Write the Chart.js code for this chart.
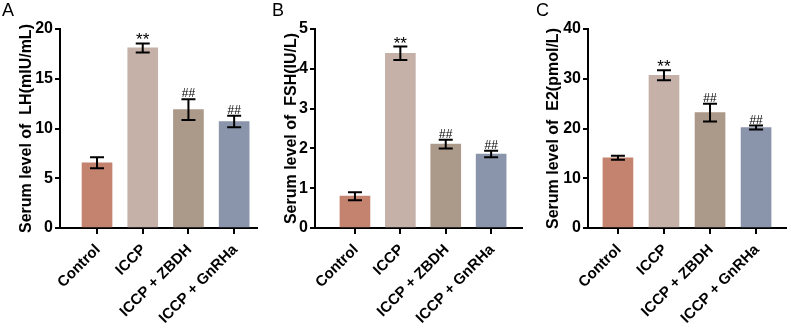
<!DOCTYPE html>
<html>
<head>
<meta charset="utf-8">
<script src="https://cdn.jsdelivr.net/npm/chart.js@4"></script>
<style>
  body { margin: 0; background: #fff; width: 789px; height: 323px; overflow: hidden; position: relative; font-family: "Liberation Sans", Arial, sans-serif; }
  .panel { position: absolute; top: 0; height: 323px; }
  .letter { position: absolute; top: 0; font-size: 18px; color: #000; }
</style>
</head>
<body>
<div class="panel" style="left:0;width:263px"><canvas id="chartA"></canvas></div>
<div class="panel" style="left:255px;width:270px"><canvas id="chartB"></canvas></div>
<div class="panel" style="left:528px;width:261px"><canvas id="chartC"></canvas></div>
<div class="letter" style="left:2px">A</div>
<div class="letter" style="left:272px">B</div>
<div class="letter" style="left:536px">C</div>
<script>
// groups on the x axis
var groups = ["Control", "ICCP", "ICCP + ZBDH", "ICCP + GnRHa"];
var barColors = ["#c4836f", "#c5b1a7", "#ab9a89", "#8a95ab"];
var marks = ["", "**", "##", "##"];

// LH (mIU/mL)
var lhMean = [6.55, 18.1, 11.9, 10.7];
var lhErr = [0.55, 0.45, 1.05, 0.57];
// FSH (IU/L)
var fshMean = [0.8, 4.39, 2.11, 1.86];
var fshErr = [0.1, 0.17, 0.11, 0.08];
// E2 (pmol/L)
var e2Mean = [14.1, 30.7, 23.2, 20.2];
var e2Err = [0.4, 1.0, 1.8, 0.4];

var errorBars = {
  id: "errorBars",
  afterDatasetsDraw: function(chart) {
    var ctx = chart.ctx;
    var meta = chart.getDatasetMeta(0);
    var errs = chart.options.plugins.errorBars.errs;
    var ys = chart.scales.y;
    ctx.save();
    ctx.strokeStyle = "#000";
    ctx.lineWidth = 2;
    meta.data.forEach(function(bar, i) {
      var v = chart.data.datasets[0].data[i].y;
      var top = ys.getPixelForValue(v + errs[i]);
      var bot = ys.getPixelForValue(v - errs[i]);
      var x = bar.x;
      ctx.beginPath();
      ctx.moveTo(x, top); ctx.lineTo(x, bot);
      ctx.moveTo(x - 7, top); ctx.lineTo(x + 7, top);
      ctx.moveTo(x - 7, bot); ctx.lineTo(x + 7, bot);
      ctx.stroke();
      ctx.fillStyle = "#000";
      ctx.textAlign = "center";
      ctx.textBaseline = "alphabetic";
      if (marks[i] === "**") {
        ctx.font = "17px 'Liberation Sans', Arial";
        ctx.fillText(marks[i], x, top + 2);
      } else if (marks[i]) {
        ctx.font = "12px 'Liberation Sans', Arial";
        ctx.fillText(marks[i], x, top - 2);
      }
    });
    ctx.restore();
  }
};

function makeChart(id, means, errs, yMax, step, title, xMin, xMax, padLeft, yWidth, padRight) {
  var pts = means.map(function(v, i) { return { x: i, y: v }; });
  return new Chart(document.getElementById(id), {
    type: "bar",
    data: {
      datasets: [{
        data: pts,
        backgroundColor: barColors,
        borderWidth: 0,
        barThickness: 30
      }]
    },
    options: {
      responsive: true,
      maintainAspectRatio: false,
      animation: false,
      layout: { padding: { left: padLeft, right: padRight, top: 29, bottom: 0 } },
      plugins: {
        legend: { display: false },
        tooltip: { enabled: false },
        errorBars: { errs: errs }
      },
      scales: {
        x: {
          type: "linear",
          min: xMin,
          max: xMax,
          offset: false,
          afterBuildTicks: function(scale) {
            scale.ticks = [0, 1, 2, 3].map(function(v) { return { value: v }; });
          },
          afterFit: function(scale) { scale.height = 95; },
          grid: { drawOnChartArea: false, offset: false, color: "#000", lineWidth: 2, tickLength: 6 },
          border: { color: "#000", width: 2 },
          ticks: {
            color: "#000",
            font: { size: 15, weight: "bold", family: "'Liberation Sans', Arial" },
            minRotation: 45,
            maxRotation: 45,
            padding: 7,
            labelOffset: 1,
            autoSkip: false,
            callback: function(v) { return groups[v]; }
          }
        },
        y: {
          min: 0,
          max: yMax,
          afterFit: function(scale) { scale.width = yWidth; },
          grid: { drawOnChartArea: false, color: "#000", lineWidth: 2, tickLength: 5 },
          border: { color: "#000", width: 2 },
          ticks: {
            stepSize: step,
            color: "#000",
            padding: 2,
            font: { size: 16, weight: "bold", family: "'Liberation Sans', Arial" }
          },
          title: {
            display: true,
            text: title,
            color: "#000",
            font: { size: 16, weight: "bold", family: "'Liberation Sans', Arial" }
          }
        }
      }
    },
    plugins: [errorBars]
  });
}

makeChart("chartA", lhMean, lhErr, 20, 5, "Serum level of  LH(mIU/mL)", -0.81, 3.5, 13, 47, 6);
makeChart("chartB", fshMean, fshErr, 5, 1, "Serum level of  FSH(IU/L)", -0.88, 3.68, 23, 37, 3);
makeChart("chartC", e2Mean, e2Err, 40, 10, "Serum level of  E2(pmol/L)", -0.65, 3.65, 12, 48, 3);
</script>
</body>
</html>
